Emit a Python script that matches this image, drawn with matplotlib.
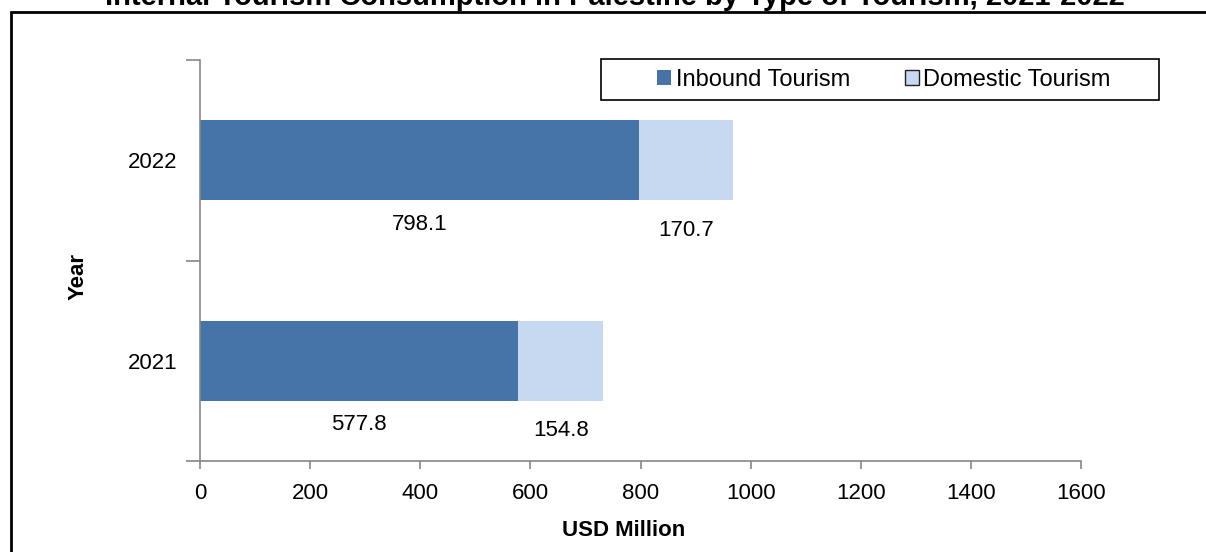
import matplotlib.pyplot as plt
import matplotlib.patches as mpatches
import numpy as np

plt.rcParams['font.family'] = ['Liberation Sans', 'DejaVu Sans']

# data
years = ['2021', '2022']
inbound = [577.8, 798.1]
domestic = [154.8, 170.7]

c_in = '#4674A9'
c_dom = '#C6D9F0'
W, H = 1206, 552
fs = 16

fig = plt.figure(figsize=(W / 100, H / 100), dpi=100)
ax = fig.add_axes([200 / W, 1 - 461 / H, 881 / W, 401 / H])

y = np.arange(len(years))
ax.barh(y, inbound, height=0.4, color=c_in, label='Inbound Tourism')
ax.barh(y, domestic, left=inbound, height=0.4, color=c_dom, label='Domestic Tourism')

# value labels below each segment
for i in range(len(years)):
    ax.text(inbound[i] / 2, y[i] - 0.32, f'{inbound[i]:.1f}', ha='center', va='center', fontsize=fs)
    ax.text(inbound[i] + domestic[i] / 2, y[i] - 0.35, f'{domestic[i]:.1f}', ha='center', va='center', fontsize=fs)

ax.set_xlim(0, 1600)
ax.set_ylim(-0.5, 1.5)
ax.set_xticks(np.arange(0, 1601, 200))
ax.set_yticks(y)
ax.set_yticklabels(years)
ax.set_yticks([-0.5, 0.5, 1.5], minor=True)
ax.tick_params(axis='y', which='major', length=0, labelsize=fs, pad=16)
ax.tick_params(axis='y', which='minor', length=10, color='#888888', width=1.2)
ax.tick_params(axis='x', length=6, color='#888888', width=1.2, labelsize=fs, pad=10)
for s in ['top', 'right']:
    ax.spines[s].set_visible(False)
for s in ['left', 'bottom']:
    ax.spines[s].set_color('#888888')
    ax.spines[s].set_linewidth(1.2)

fig.text(624 / W, 1 - 531 / H, 'USD Million', ha='center', va='center', fontsize=fs, fontweight='bold')
fig.text(78 / W, 1 - 277 / H, 'Year', ha='center', va='center', rotation=90, fontsize=fs, fontweight='bold')

# legend without its own frame, box drawn separately
leg_handles = [mpatches.Patch(facecolor=c_in, label='Inbound Tourism'),
               mpatches.Patch(facecolor=c_dom, edgecolor='#222222', linewidth=1, label='Domestic Tourism')]
ax.legend(handles=leg_handles, ncol=2, loc='center', bbox_to_anchor=(884 / W, 1 - 80 / H),
          bbox_transform=fig.transFigure, fontsize=17, frameon=False,
          handlelength=0.6, handleheight=0.6, handletextpad=0.2, columnspacing=2.3)
fig.patches.append(mpatches.Rectangle((601 / W, 1 - 100 / H), 558 / W, 41 / H, transform=fig.transFigure,
                                      fill=False, edgecolor='black', linewidth=1.2))

# outer border, running off the right and bottom edges
fig.patches.append(mpatches.Rectangle((11 / W, -0.1), 1.2, 1.1 - 12 / H, transform=fig.transFigure,
                                      fill=False, edgecolor='black', linewidth=2))

fig.text(615 / W, 1 - 5 / H, 'Internal Tourism Consumption in Palestine by Type of Tourism, 2021-2022',
         ha='center', va='baseline', fontsize=21, fontweight='bold')

fig.savefig('out.png', dpi=100)
